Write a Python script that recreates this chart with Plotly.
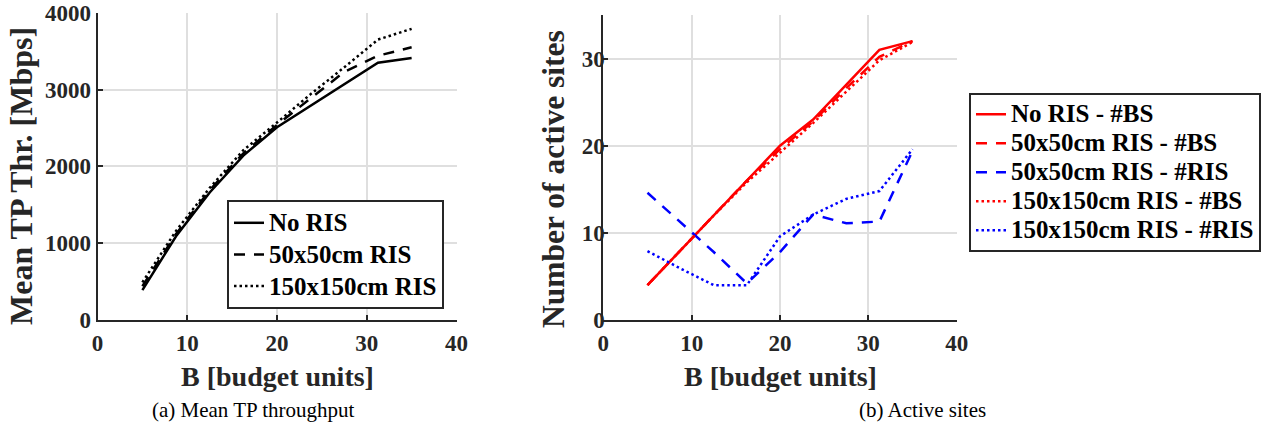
import plotly.graph_objects as go

# ---------------- data ----------------
B = [5, 8.75, 12.5, 16.25, 20, 23.75, 27.5, 31.25, 35]

tp_no_ris = [390, 1090, 1660, 2140, 2510, 2790, 3070, 3350, 3410]
tp_ris_50 = [440, 1120, 1690, 2170, 2540, 2890, 3230, 3440, 3550]
tp_ris_150 = [490, 1160, 1720, 2210, 2570, 2940, 3290, 3650, 3790]

bs_no_ris = [4, 8, 12, 16, 20, 23, 27, 31, 32]
bs_ris_50 = [4, 8, 12, 16, 19.6, 22.8, 26.6, 30.2, 32]
ris_ris_50 = [14.6, 11.2, 7.8, 4.2, 7.8, 12.1, 11.1, 11.3, 19.4]
bs_ris_150 = [4, 8, 12, 15.8, 19.2, 22.6, 26.2, 29.8, 31.9]
ris_ris_150 = [7.9, 5.9, 4, 4, 9.6, 12.1, 13.9, 14.8, 19.6]

x_ticks = [0, 10, 20, 30, 40]
tp_ticks = [0, 1000, 2000, 3000, 4000]
sites_ticks = [0, 10, 20, 30]

# ---------------- style ----------------
FONT = "Liberation Serif"
AX = "#262626"
GRID = "#dfdfdf"
DASH = "11px,9px"
DOT = "2.5px,3px"
LW = 2.5


def big(name):
    return '<span style="font-size:25px">' + name + '</span>'


fig = go.Figure()

left = [
    ("No RIS", tp_no_ris, "solid"),
    ("50x50cm RIS", tp_ris_50, DASH),
    ("150x150cm RIS", tp_ris_150, DOT),
]
for name, y, dash in left:
    fig.add_trace(go.Scatter(x=B, y=y, name=big(name), mode="lines",
                             line=dict(color="black", width=LW, dash=dash),
                             xaxis="x", yaxis="y", legend="legend"))

right = [
    ("No RIS - #BS", bs_no_ris, "red", "solid"),
    ("50x50cm RIS - #BS", bs_ris_50, "red", DASH),
    ("50x50cm RIS - #RIS", ris_ris_50, "blue", DASH),
    ("150x150cm RIS - #BS", bs_ris_150, "red", DOT),
    ("150x150cm RIS - #RIS", ris_ris_150, "blue", DOT),
]
for name, y, c, dash in right:
    fig.add_trace(go.Scatter(x=B, y=y, name=big(name), mode="lines",
                             line=dict(color=c, width=LW, dash=dash),
                             xaxis="x2", yaxis="y2", legend="legend2"))

tickfont = dict(family=FONT, size=23, color=AX, weight="bold")
common = dict(showgrid=True, gridcolor=GRID, gridwidth=2, showline=True,
              linecolor=AX, linewidth=2, ticks="inside", ticklen=5,
              tickwidth=2, tickcolor=AX, tickfont=tickfont, zeroline=False,
              mirror=False)

W, H = 1267, 425


def px(x):
    return x / W


def py(y):
    return (H - y) / H


fig.update_layout(
    width=W, height=H,
    margin=dict(l=0, r=0, t=0, b=0, autoexpand=False),
    paper_bgcolor="white", plot_bgcolor="white",
    xaxis=dict(domain=[px(97.5), px(456.5)], range=[0, 40], tickvals=x_ticks,
               anchor="y", ticklabelstandoff=1, **common),
    yaxis=dict(domain=[py(320), py(12.7)], range=[0, 4000], tickvals=tp_ticks,
               anchor="x", ticklabelstandoff=0, **common),
    xaxis2=dict(domain=[px(603.3), px(956.7)], range=[0, 40], tickvals=x_ticks,
                anchor="y2", ticklabelstandoff=1, **common),
    yaxis2=dict(domain=[py(320), py(15)], range=[0, 35], tickvals=sites_ticks,
                anchor="x2", ticklabelstandoff=-8, **common),
    legend=dict(x=px(227), y=py(200), xanchor="left", yanchor="top",
                bgcolor="white", bordercolor=AX, borderwidth=2,
                font=dict(family=FONT, size=22, color="black", weight="bold"),
                tracegroupgap=0),
    legend2=dict(x=px(969), y=py(92.7), xanchor="left", yanchor="top",
                 bgcolor="white", bordercolor=AX, borderwidth=2,
                 font=dict(family=FONT, size=20, color="black", weight="bold"),
                 tracegroupgap=0),
    showlegend=True,
)

ann = []
title_font_x = dict(family=FONT, size=28, color=AX, weight="bold")
ann.append(dict(text="B [budget units]", x=px(277), y=py(376), xref="paper", yref="paper",
                showarrow=False, font=title_font_x, xanchor="center", yanchor="middle"))
ann.append(dict(text="B [budget units]", x=px(780), y=py(376), xref="paper", yref="paper",
                showarrow=False, font=title_font_x, xanchor="center", yanchor="middle"))
ann.append(dict(text="Mean TP Thr. [Mbps]", x=px(21), y=py(176), xref="paper", yref="paper",
                showarrow=False, font=dict(family=FONT, size=32, color=AX, weight="bold"),
                textangle=-90, xanchor="center", yanchor="middle"))
ann.append(dict(text="Number of active sites", x=px(553), y=py(179), xref="paper", yref="paper",
                showarrow=False, font=dict(family=FONT, size=31.5, color=AX, weight="bold"),
                textangle=-90, xanchor="center", yanchor="middle"))
cap_font = dict(family=FONT, size=21, color="black")
ann.append(dict(text="(a) Mean TP throughput", x=px(253), y=py(410), xref="paper", yref="paper",
                showarrow=False, font=cap_font, xanchor="center", yanchor="middle"))
ann.append(dict(text="(b) Active sites", x=px(922), y=py(410), xref="paper", yref="paper",
                showarrow=False, font=cap_font, xanchor="center", yanchor="middle"))
fig.update_layout(annotations=ann)

fig.write_html(
    "out.html",
    config={"displayModeBar": False},
    post_script="document.body.style.margin='0';document.body.style.padding='0';"
                "document.documentElement.style.overflow='hidden';",
)
